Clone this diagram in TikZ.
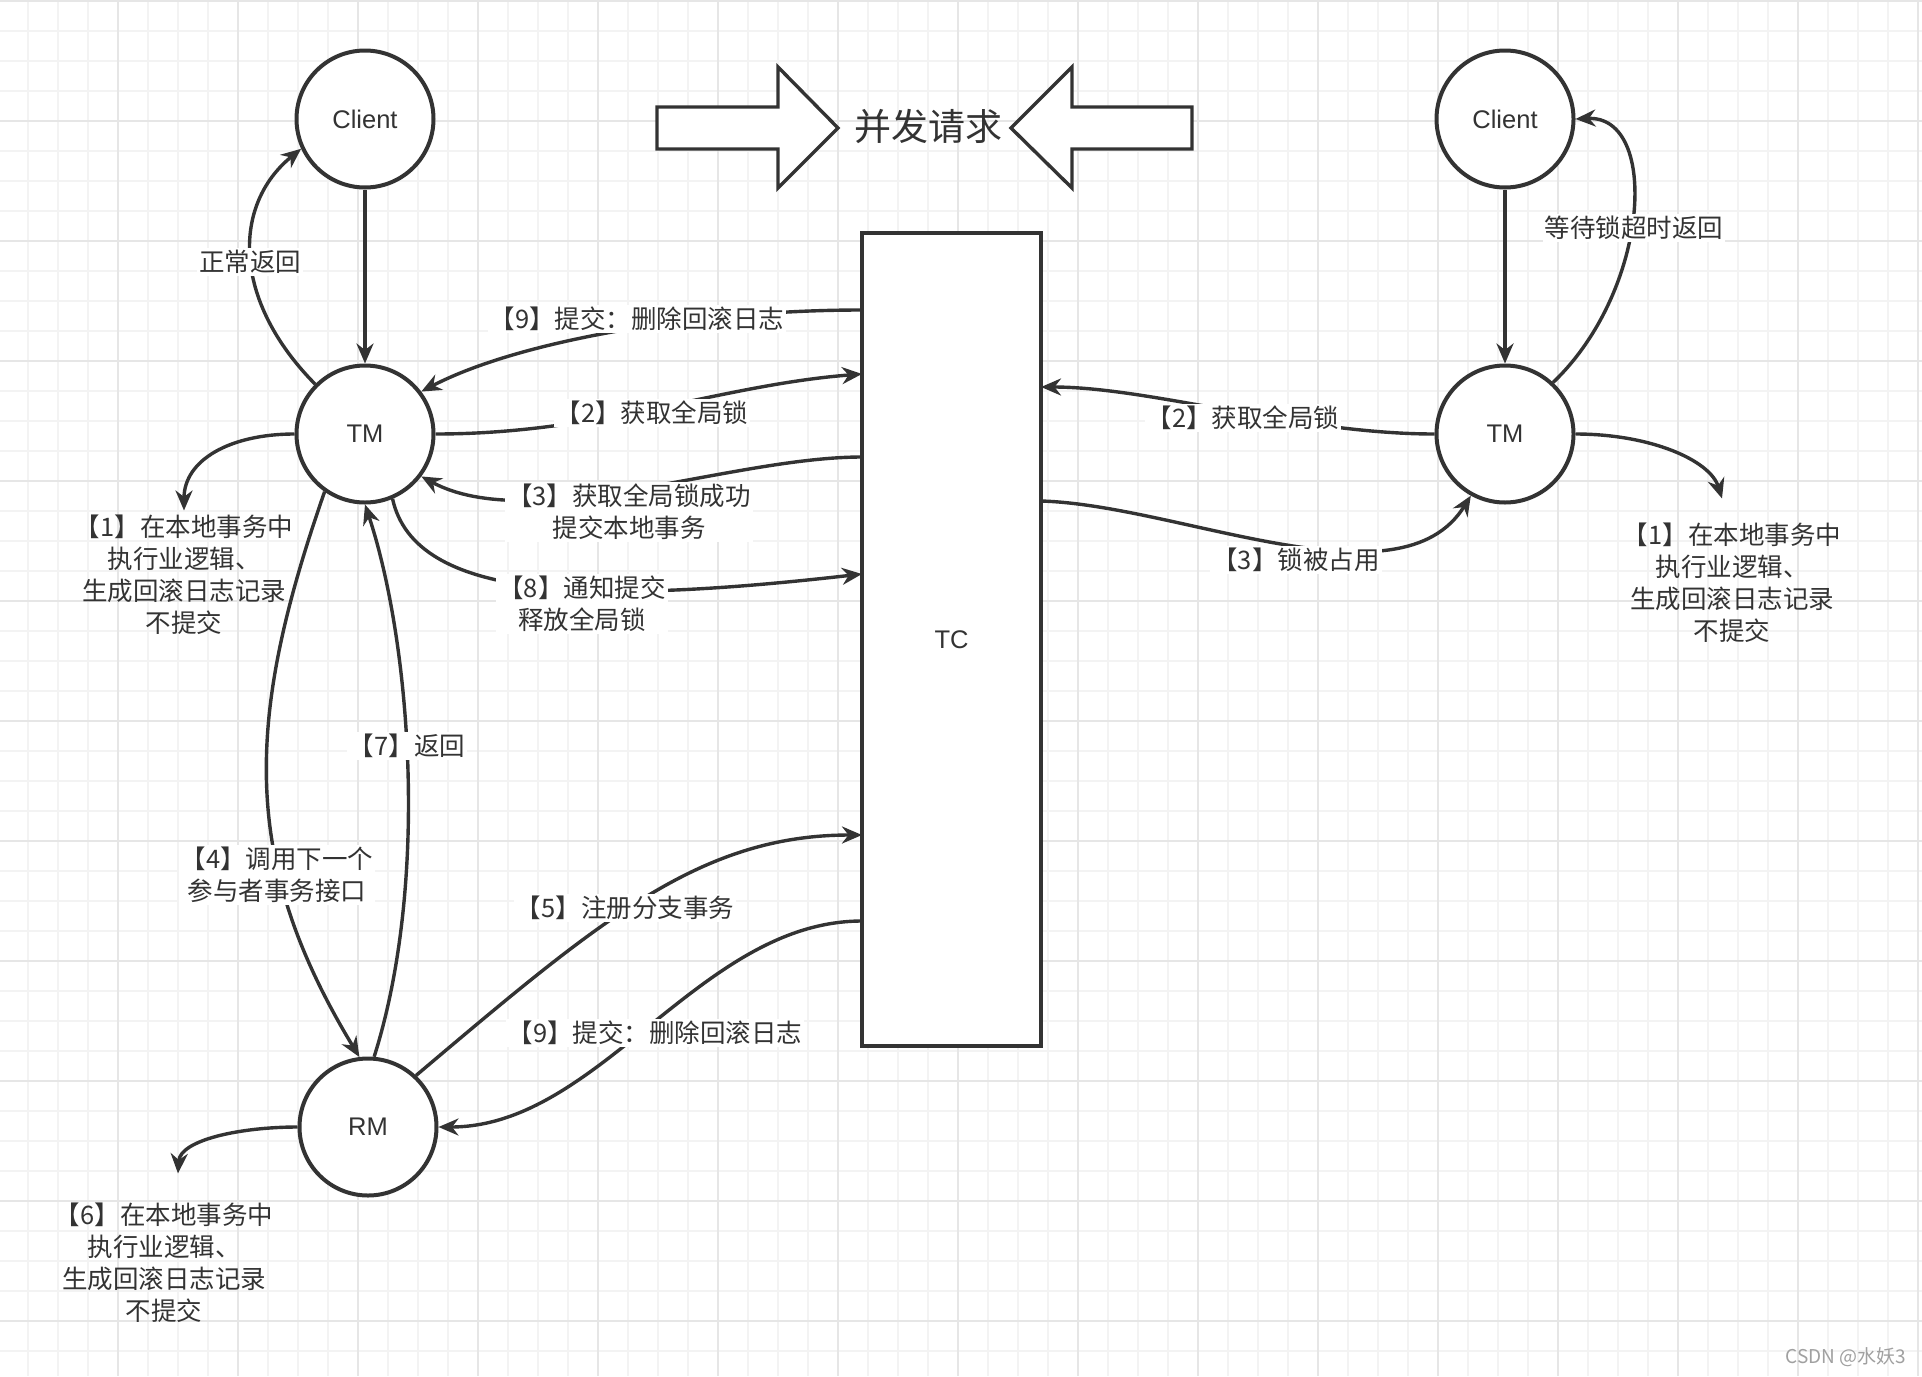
\documentclass[tikz,border=0pt]{standalone}
\usepackage{fontspec}
\setmainfont{Noto Sans CJK SC}
\newfontfamily\latinfont{Liberation Sans}
\usepackage{xcolor}
\usetikzlibrary{arrows.meta}

\definecolor{ink}{HTML}{333333}
\definecolor{gridminor}{HTML}{F3F3F3}
\definecolor{gridmajor}{HTML}{E6E6E6}
\definecolor{markgray}{HTML}{A0A0A0}

\begin{document}
\begin{tikzpicture}[x=1pt,y=-1pt,>={Stealth[length=20pt,width=17pt]},
                    color=ink,line width=3.4pt,line join=miter,
                    round node/.style={circle,draw,line width=4pt,fill=white,minimum size=137pt,inner sep=0pt,font=\latinfont\fontsize{25.5}{32}\selectfont},
                    note box/.style={align=center,inner sep=3pt,font=\fontsize{25.5}{32}\selectfont},
                    tag box/.style={fill=white,align=center,inner sep=2pt,font=\fontsize{25.5}{32}\selectfont}]

  % page and grid
  \useasboundingbox (0,0) rectangle (1922,1376);
  \fill[white] (0,0) rectangle (1922,1376);
  \foreach \gx in {-2,28,...,1918}
    \draw[gridminor,line width=1.2pt] (\gx,0) -- (\gx,1376);
  \foreach \gy in {1,31,...,1351}
    \draw[gridminor,line width=1.2pt] (0,\gy) -- (1922,\gy);
  \foreach \gx in {-2,118,...,1918}
    \draw[gridmajor,line width=1.6pt] (\gx,0) -- (\gx,1376);
  \foreach \gy in {1,121,...,1321}
    \draw[gridmajor,line width=1.6pt] (0,\gy) -- (1922,\gy);

  % concurrent requests
  \draw[fill=white] (657,107) -- (778,107) -- (778,67) -- (838,128) -- (778,188) -- (778,149) -- (657,149) -- cycle;
  \draw[fill=white] (1192,107) -- (1072,107) -- (1072,67) -- (1011,128) -- (1072,188) -- (1072,149) -- (1192,149) -- cycle;
  \node[font=\fontsize{37}{44}\selectfont] (title) at (928,126) {并发请求};

  \node[round node] (cliL) at (365,119) {Client};
  \node[round node] (tmL) at (365,434) {TM};
  \node[round node] (rm) at (368,1127) {RM};
  \node[round node] (cliR) at (1505,119) {Client};
  \node[round node] (tmR) at (1505,434) {TM};
  \node[draw,fill=white,minimum width=179pt,minimum height=813pt,inner sep=0pt,
        font=\latinfont\fontsize{25.5}{32}\selectfont] (tc) at (951.5,639.5) {TC};

  \node[note box] (note1L) at (184,575) {【1】在本地事务中\\执行业逻辑、\\生成回滚日志记录\\不提交};
  \node[note box] (note1R) at (1732,583) {【1】在本地事务中\\执行业逻辑、\\生成回滚日志记录\\不提交};
  \node[note box] (note6) at (164,1263) {【6】在本地事务中\\执行业逻辑、\\生成回滚日志记录\\不提交};

  \coordinate (tc9a) at (862,310);
  \coordinate (tc2) at (862,374);
  \coordinate (tc3) at (862,457);
  \coordinate (tc8) at (862,574);
  \coordinate (tc5) at (862,835);
  \coordinate (tc9b) at (862,921);
  \coordinate (tc2r) at (1041,387);
  \coordinate (tc3r) at (1041,501);

  % left side
  \draw[->] (cliL) -- (tmL);
  \draw[->] (tmL.135) .. controls (232,300) and (232,205) .. (cliL.205);
  \draw[->] (tc9a) .. controls (700,310) and (520,340) .. (tmL.37);
  \draw[->] (tmL.east) .. controls (600,434) and (720,385) .. (tc2);
  \draw[->] (tc3) .. controls (730,457) and (530,535) .. (tmL.323);
  \draw[->] (tmL.293) .. controls (415,600) and (590,605) .. (tc8);
  \draw[->] (tmL.235) .. controls (245,720) and (240,860) .. (rm.97);
  \draw[->] (rm.85) .. controls (430,880) and (410,640) .. (tmL.south);
  \draw[->] (rm.47) .. controls (600,920) and (700,835) .. (tc5);
  \draw[->] (tc9b) .. controls (700,921) and (600,1127) .. (rm.east);
  \draw[->] (tmL.west) .. controls (230,434) and (184,460) .. (note1L.north);
  \draw[->] (rm.west) .. controls (240,1127) and (180,1140) .. ([xshift=14pt,yshift=25pt]note6.north);

  % right side
  \draw[->] (cliR) -- (tmR);
  \draw[->] (tmR.47) .. controls (1650,290) and (1660,115) .. (cliR.east);
  \draw[->] (tmR.west) .. controls (1300,434) and (1150,387) .. (tc2r);
  \draw[->] (tc3r) .. controls (1180,505) and (1400,610) .. (tmR.241);
  \draw[->] (tmR.east) .. controls (1650,434) and (1710,460) .. ([xshift=-10pt,yshift=20pt]note1R.north);

  \node[tag box] (lbNormal) at (250,262) {正常返回};
  \node[tag box] (lb9a) at (637,319) {【9】提交：删除回滚日志};
  \node[tag box] (lb2L) at (652,413) {【2】获取全局锁};
  \node[tag box] (lb3L) at (629,512) {【3】获取全局锁成功\\提交本地事务};
  \node[tag box] (lb8) at (582,604) {【8】通知提交\\释放全局锁};
  \node[tag box] (lb7) at (407,746) {【7】返回};
  \node[tag box] (lb4) at (277,875) {【4】调用下一个\\参与者事务接口};
  \node[tag box] (lb5) at (625,908) {【5】注册分支事务};
  \node[tag box] (lb9b) at (655,1033) {【9】提交：删除回滚日志};
  \node[tag box] (lbWait) at (1634,228) {等待锁超时返回};
  \node[tag box] (lb2R) at (1243,418) {【2】获取全局锁};
  \node[tag box] (lb3R) at (1296,560) {【3】锁被占用};

  \node[markgray,font=\fontsize{19}{22}\selectfont] (mark) at (1846,1357) {CSDN @水妖3};
\end{tikzpicture}
\end{document}
